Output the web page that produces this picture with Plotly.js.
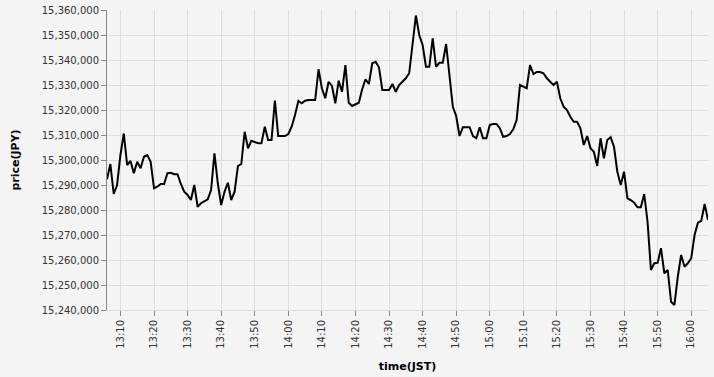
<!DOCTYPE html>
<html>
<head>
<meta charset="utf-8">
<script src="https://cdn.plot.ly/plotly-3.0.1.min.js"></script>
<style>
  html, body { margin: 0; padding: 0; background: #f4f4f4; }
  #chart { width: 714px; height: 377px; }
</style>
</head>
<body>
<div id="chart"></div>
<script>
const tradeDate = "2024-01-01";
const times = [
  "13:06","13:07","13:08","13:09","13:10","13:11","13:12","13:13","13:14","13:15","13:16","13:17","13:18","13:19",
  "13:20","13:21","13:22","13:23","13:24","13:25","13:26","13:27","13:28","13:29",
  "13:30","13:31","13:32","13:33","13:34","13:35","13:36","13:37","13:38","13:39",
  "13:40","13:41","13:42","13:43","13:44","13:45","13:46","13:47","13:48","13:49",
  "13:50","13:51","13:52","13:53","13:54","13:55","13:56","13:57","13:58","13:59",
  "14:00","14:01","14:02","14:03","14:04","14:05","14:06","14:07","14:08","14:09",
  "14:10","14:11","14:12","14:13","14:14","14:15","14:16","14:17","14:18","14:19",
  "14:20","14:21","14:22","14:23","14:24","14:25","14:26","14:27","14:28","14:29",
  "14:30","14:31","14:32","14:33","14:34","14:35","14:36","14:37","14:38","14:39",
  "14:40","14:41","14:42","14:43","14:44","14:45","14:46","14:47","14:48","14:49",
  "14:50","14:51","14:52","14:53","14:54","14:55","14:56","14:57","14:58","14:59",
  "15:00","15:01","15:02","15:03","15:04","15:05","15:06","15:07","15:08","15:09",
  "15:10","15:11","15:12","15:13","15:14","15:15","15:16","15:17","15:18","15:19",
  "15:20","15:21","15:22","15:23","15:24","15:25","15:26","15:27","15:28","15:29",
  "15:30","15:31","15:32","15:33","15:34","15:35","15:36","15:37","15:38","15:39",
  "15:40","15:41","15:42","15:43","15:44","15:45","15:46","15:47","15:48","15:49",
  "15:50","15:51","15:52","15:53","15:54","15:55","15:56","15:57","15:58","15:59",
  "16:00","16:01","16:02","16:03","16:04","16:05"
];
const prices = [
  15292300,15298400,15286400,15290000,15302000,15310600,15298000,15299600,15294700,15299300,
  15296700,15301300,15302000,15299300,15288700,15289300,15290400,15290400,15294700,15294900,
  15294300,15294300,15290400,15287300,15286000,15284000,15290000,15281300,15282700,15283600,
  15284300,15288000,15302700,15290700,15282000,15287300,15290900,15284000,15287300,15297600,
  15298400,15311300,15304700,15307700,15307300,15306700,15306700,15313300,15308000,15308000,
  15323800,15309600,15309600,15309600,15310400,15313300,15318000,15323600,15322700,15323700,
  15324000,15324000,15324000,15336300,15328700,15324700,15331300,15329600,15322700,15331700,
  15327300,15338000,15322900,15321600,15322300,15322900,15328300,15332300,15330400,15338700,
  15339300,15337100,15328000,15328000,15328000,15330400,15327300,15330000,15331300,15332700,
  15334700,15345300,15357800,15350000,15346000,15337300,15337300,15348700,15337300,15338900,
  15338900,15346400,15334700,15321300,15317600,15309600,15313100,15313100,15313100,15309600,
  15308700,15313100,15308700,15308700,15314000,15314400,15314400,15312700,15309300,15309600,
  15310400,15312300,15316000,15330000,15329300,15328700,15338000,15334400,15335200,15335200,
  15334700,15332700,15331300,15330000,15331300,15324700,15321300,15320000,15317300,15315300,
  15315300,15312700,15306000,15309600,15304700,15303300,15297600,15308700,15300700,15308000,
  15309100,15305300,15295300,15290000,15295300,15284700,15284000,15282900,15281100,15281100,
  15286400,15275300,15256000,15258700,15258900,15264700,15254700,15256000,15243300,15242000,
  15253300,15262000,15257300,15258700,15260700,15270000,15274900,15275700,15282400,15276000
];
const xTitle = "time(JST)";
const yTitle = "price(JPY)";
const yMin = 15240000, yMax = 15360000;

const xs = times.map(t => tradeDate + " " + t + ":00");

const trace = {
  x: xs,
  y: prices,
  type: "scatter",
  mode: "lines",
  line: { color: "#000000", width: 2 },
  hoverinfo: "skip"
};

const font = { family: "DejaVu Sans, sans-serif", size: 10, color: "#333333" };

const layout = {
  width: 714,
  height: 377,
  margin: { l: 107, r: 6, t: 10, b: 67 },
  paper_bgcolor: "#f4f4f4",
  plot_bgcolor: "#f4f4f4",
  showlegend: false,
  font: font,
  xaxis: {
    type: "date",
    range: [xs[0], xs[xs.length - 1]],
    dtick: 600000,
    tick0: tradeDate + " 13:00:00",
    tickformat: "%H:%M",
    tickangle: -90,
    ticks: "outside",
    ticklen: 5,
    tickcolor: "#888888",
    showgrid: true,
    gridcolor: "#dddddd",
    gridwidth: 1,
    showline: true,
    linecolor: "#dddddd",
    linewidth: 1,
    zeroline: false,
    automargin: false,
    tickfont: { family: "DejaVu Sans, sans-serif", size: 10, color: "#333333" },
    title: { text: xTitle, font: { family: "DejaVu Sans, sans-serif", size: 11, color: "#000000", weight: "bold" }, standoff: 14 }
  },
  yaxis: {
    range: [yMin, yMax],
    dtick: 10000,
    tickformat: ",d",
    ticks: "outside",
    ticklen: 5,
    tickcolor: "#888888",
    showgrid: true,
    gridcolor: "#dddddd",
    gridwidth: 1,
    showline: true,
    linecolor: "#888888",
    linewidth: 1,
    zeroline: false,
    automargin: false,
    tickfont: { family: "DejaVu Sans, sans-serif", size: 10, color: "#333333" },
    title: { text: yTitle, font: { family: "DejaVu Sans, sans-serif", size: 11, color: "#000000", weight: "bold" }, standoff: 19 }
  }
};

Plotly.newPlot("chart", [trace], layout, { staticPlot: true, displayModeBar: false });
</script>
</body>
</html>
